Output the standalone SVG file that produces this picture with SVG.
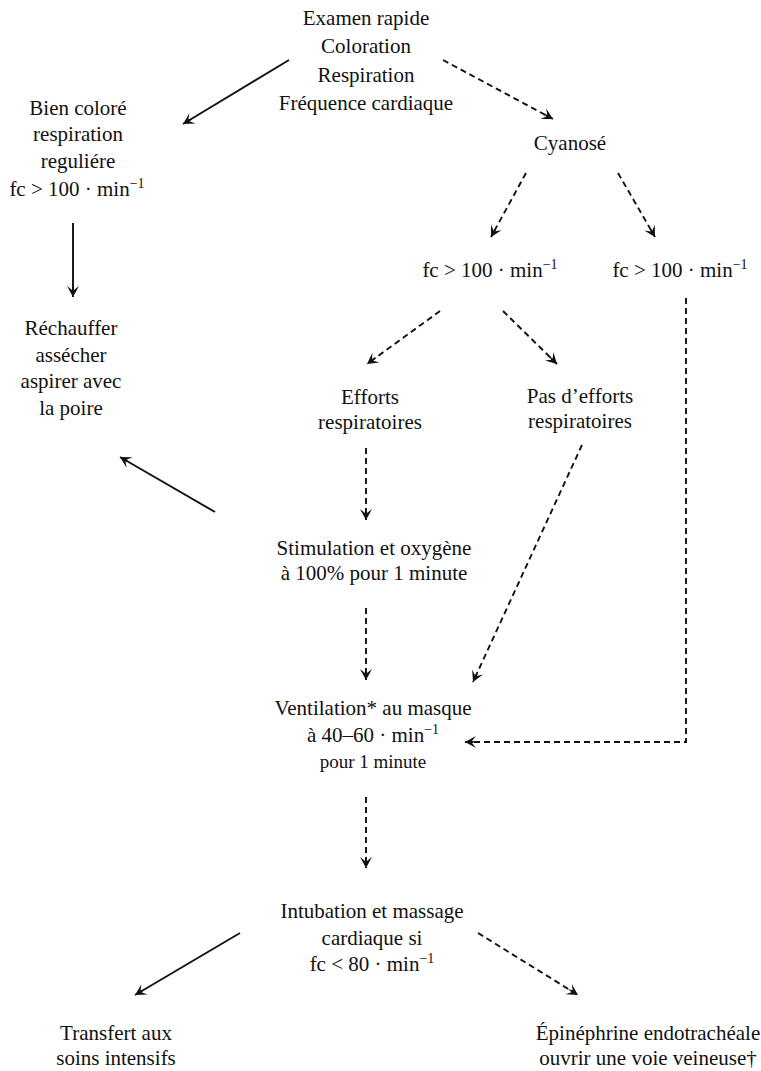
<svg xmlns="http://www.w3.org/2000/svg" width="761" height="1071" viewBox="0 0 761 1071">
<style>
text{font-family:"Liberation Serif","Times New Roman",serif;font-size:21px;fill:#111;text-anchor:middle}
.sup{font-size:14px}
.c{fill:none;stroke:#111;stroke-width:1.9}
.d{stroke-dasharray:6,4}
</style>
<defs>
<marker id="ah" viewBox="-13 -7 15 14" refX="0" refY="0" markerWidth="15" markerHeight="14" markerUnits="userSpaceOnUse" orient="auto">
<path d="M0,0 L-11,-6 L-7,-1 L-12,0 L-7,1 L-11,6 Z" fill="#111"/>
</marker>
</defs>
<rect width="761" height="1071" fill="#fff"/>
<g id="connectors">
<line class="c" x1="289" y1="60" x2="183" y2="124" marker-end="url(#ah)"/>
<line class="c d" x1="443" y1="60" x2="553" y2="119" marker-end="url(#ah)"/>
<line class="c d" x1="526" y1="173" x2="491" y2="237" marker-end="url(#ah)"/>
<line class="c d" x1="618" y1="173" x2="655" y2="237" marker-end="url(#ah)"/>
<line class="c" x1="73" y1="223" x2="73" y2="297" marker-end="url(#ah)"/>
<line class="c d" x1="440" y1="311" x2="367" y2="364" marker-end="url(#ah)"/>
<line class="c d" x1="503" y1="311" x2="557" y2="364" marker-end="url(#ah)"/>
<line class="c" x1="215" y1="512" x2="120" y2="457" marker-end="url(#ah)"/>
<line class="c d" x1="366" y1="448" x2="366" y2="520" marker-end="url(#ah)"/>
<line class="c d" x1="366" y1="608" x2="366" y2="680" marker-end="url(#ah)"/>
<line class="c d" x1="582" y1="445" x2="473" y2="682" marker-end="url(#ah)"/>
<polyline class="c d" points="686,298 686,742 465,742" marker-end="url(#ah)"/>
<line class="c d" x1="366" y1="797" x2="366" y2="868" marker-end="url(#ah)"/>
<line class="c" x1="240" y1="933" x2="135" y2="995" marker-end="url(#ah)"/>
<line class="c d" x1="478" y1="933" x2="578" y2="995" marker-end="url(#ah)"/>
</g>
<g id="n-examen">
<text x="366" y="25">Examen rapide</text>
<text x="366" y="53">Coloration</text>
<text x="366" y="82">Respiration</text>
<text x="366" y="110">Fréquence cardiaque</text>
</g>
<g id="n-bien">
<text x="78" y="115">Bien coloré</text>
<text x="78" y="141">respiration</text>
<text x="78" y="168">reguliére</text>
<text x="77" y="196">fc &gt; 100 · min<tspan class="sup" dy="-8">−1</tspan></text>
</g>
<g id="n-cyanose">
<text x="570" y="150">Cyanosé</text>
</g>
<g id="n-fc1">
<text x="490" y="277">fc &gt; 100 · min<tspan class="sup" dy="-8">−1</tspan></text>
</g>
<g id="n-fc2">
<text x="680" y="277">fc &gt; 100 · min<tspan class="sup" dy="-8">−1</tspan></text>
</g>
<g id="n-rechauffer">
<text x="71" y="335">Réchauffer</text>
<text x="71" y="362">assécher</text>
<text x="71" y="388">aspirer avec</text>
<text x="71" y="415">la poire</text>
</g>
<g id="n-efforts">
<text x="370" y="404">Efforts</text>
<text x="370" y="429">respiratoires</text>
</g>
<g id="n-pasefforts">
<text x="580" y="403">Pas d’efforts</text>
<text x="580" y="428">respiratoires</text>
</g>
<g id="n-stimulation">
<text x="374" y="555">Stimulation et oxygène</text>
<text x="374" y="580">à 100% pour 1 minute</text>
</g>
<g id="n-ventilation">
<text x="373" y="715">Ventilation* au masque</text>
<text x="373" y="742">à 40–60 · min<tspan class="sup" dy="-8">−1</tspan></text>
<text x="373" y="768" style="font-size:19px">pour 1 minute</text>
</g>
<g id="n-intubation">
<text x="372" y="918">Intubation et massage</text>
<text x="372" y="945">cardiaque si</text>
<text x="372" y="971">fc &lt; 80 · min<tspan class="sup" dy="-8">−1</tspan></text>
</g>
<g id="n-transfert">
<text x="116" y="1040">Transfert aux</text>
<text x="116" y="1065">soins intensifs</text>
</g>
<g id="n-epinephrine">
<text x="648" y="1040">Épinéphrine endotrachéale</text>
<text x="648" y="1065">ouvrir une voie veineuse†</text>
</g>
</svg>
